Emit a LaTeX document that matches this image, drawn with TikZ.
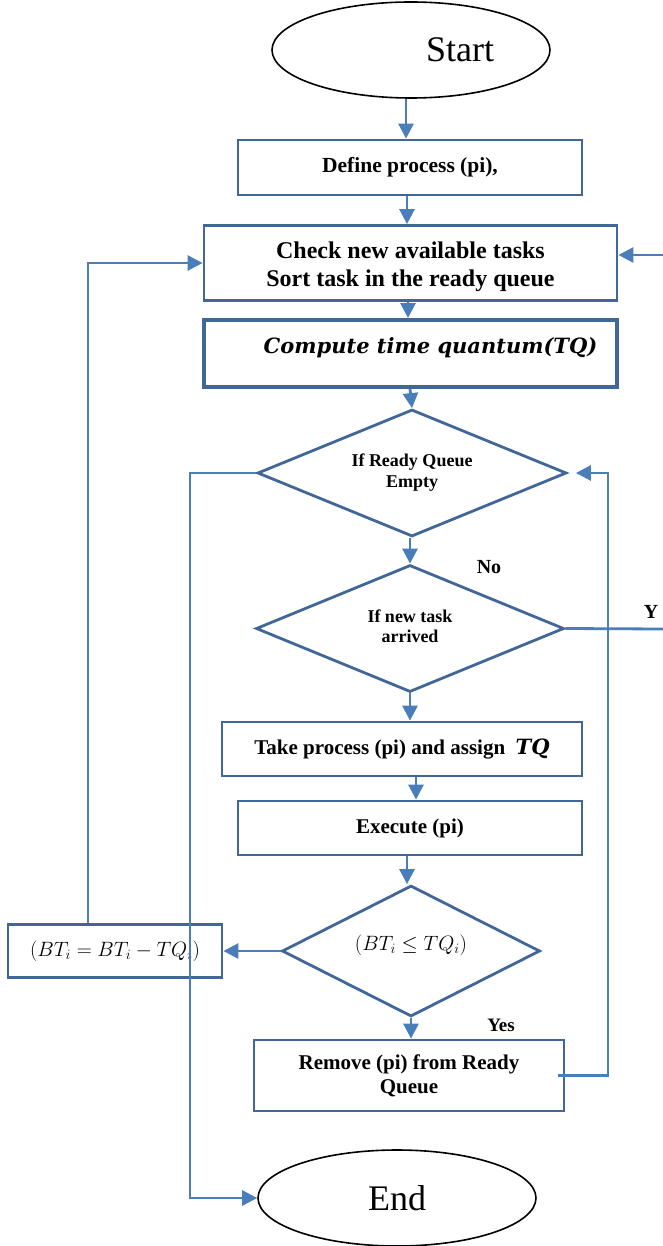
\documentclass[tikz,border=0pt]{standalone}
\usepackage{amsmath}
\usepackage{fontspec}
\setmainfont{Liberation Serif}
\newfontfamily\formfont{DejaVu Serif}
\usetikzlibrary{shapes.geometric,arrows.meta}
\definecolor{conn}{RGB}{74,126,187}
\definecolor{boxc}{RGB}{65,103,152}
\newcommand{\fs}[1]{\fontsize{#1pt}{1.15\dimexpr#1pt\relax}\selectfont}
\tikzset{
  link/.style={draw=conn, line width=2.8pt},
  arr/.style={link, -{Triangle[length=15pt,width=15pt]}},
  box/.style={draw=boxc, line width=2.8pt, fill=white, rectangle, inner sep=0pt, align=center},
  dia/.style={draw=boxc, line width=2.8pt, fill=white, diamond, aspect=2.4, inner sep=0pt, align=center},
  term/.style={draw=black, line width=1.6pt, fill=white, ellipse, inner sep=0pt},
  lbl/.style={font=\fs{19}\bfseries, inner sep=0pt}
}
\begin{document}
\begin{tikzpicture}[x=1pt,y=-1pt]
\useasboundingbox[fill=white] (0,0) rectangle (663,1246);

% terminals
\node[term, minimum width=278, minimum height=96] (start) at (411,50)
  {\fs{36}\hspace*{98pt}Start};
\node[term, minimum width=278, minimum height=96] (end) at (397,1198)
  {\fs{36}End};

% process boxes
\node[box, minimum width=344, minimum height=55, font=\fs{21.5}\bfseries] (define) at (410,167.5)
  {Define process (pi),};
\node[box, minimum width=413, minimum height=75, font=\fs{24}\bfseries] (check) at (410.5,263)
  {\raisebox{-4pt}[\height][\depth]{\begin{tabular}{@{}c@{}}Check new available tasks\\Sort task in the ready queue\end{tabular}}};
\node[box, line width=4pt, minimum width=413, minimum height=67] (compute) at (410.5,353.5)
  {\raisebox{6pt}[\height][\depth]{\hspace*{40pt}\fs{21}\formfont\bfseries\itshape Compute time quantum(TQ)}};
\node[box, minimum width=360, minimum height=54, font=\fs{21}\bfseries] (take) at (402,749)
  {Take process (pi) and assign\ \ {\formfont\itshape TQ}};
\node[box, minimum width=344, minimum height=54, font=\fs{21}\bfseries] (exec) at (410,828)
  {Execute (pi)};
\node[box, minimum width=214, minimum height=53] (bt) at (115,951)
  {\fs{21}$(BT_i = BT_i - TQ_i)$};
\node[box, minimum width=310, minimum height=71, font=\fs{21}\bfseries] (remove) at (409,1075.5)
  {Remove (pi) from Ready\\Queue};

% decisions
\node[dia, minimum width=309, minimum height=127, font=\fs{18}\bfseries] (d1) at (412,473)
  {\raisebox{4pt}{\begin{tabular}{@{}c@{}}If Ready Queue\\Empty\end{tabular}}};
\node[dia, minimum width=308, minimum height=127, font=\fs{18}\bfseries] (d2) at (410,628.5)
  {\begin{tabular}{@{}c@{}}If new task\\arrived\end{tabular}};
\node[dia, minimum width=258, minimum height=131] (d3) at (411,951)
  {\raisebox{16pt}{\fs{22}$(BT_i \leq TQ_i)$}};

% branch labels
\node[lbl, font=\fs{20}\bfseries] (no) at (489,567) {No};
\node[lbl, font=\fs{20}\bfseries] (yes2) at (651,612) {Y};
\node[lbl] (yes) at (501,1025) {Yes};

% free ends and bends
\coordinate (rin) at (663,255);
\coordinate (yout) at (663,629);
\coordinate (loopr) at (608,473);

% main flow
\draw[arr] (start.south -| 406,0) -- (define.north -| 406,0);
\draw[arr] (define.south -| 407,0) -- (check.north -| 407,0);
\draw[arr] (check.south -| 408,0) -- (compute.north -| 408,0);
\draw[arr] (compute.south -| 410,0) -- (d1.north);
\draw[arr] (d1.south -| 410,0) -- (d2.north -| 410,0);
\draw[arr] (d2.south -| 410,0) -- (take.north -| 410,0);
\draw[arr] (take.south -| 416,0) -- (exec.north -| 416,0);
\draw[arr] (exec.south -| 407,0) -- (d3.north -| 407,0);
\draw[arr] (d3.south -| 411,0) -- (remove.north -| 411,0);

% side branches
\draw[arr] (rin) -- (rin -| check.east);
\draw[link] (d2.east) -- (yout);
\draw[arr] (d3.west) -- (bt.east);
\draw[arr] (bt.north -| 88,0) |- (check.west);
\draw[arr] (d1.west) -- (190,473) |- (end.west);
\draw[arr, shorten >=8pt] ([xshift=-7pt]remove.east) -| (loopr) -- (d1.east);
\end{tikzpicture}
\end{document}
